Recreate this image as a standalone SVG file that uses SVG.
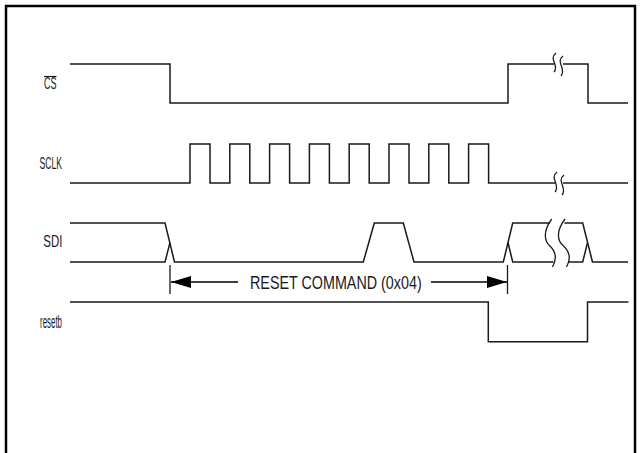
<svg xmlns="http://www.w3.org/2000/svg" width="641" height="453" viewBox="0 0 641 453">
<style>
.sig{fill:none;stroke:#1a1a1a;stroke-width:1.5;stroke-linejoin:miter}
.brk{fill:none;stroke:#1a1a1a;stroke-width:1.3}
.lbl{font-family:"Liberation Sans",Arial,sans-serif;font-size:16.5px;fill:#1a1a1a}
.big{font-size:17.5px}
.low{font-size:18.5px}
</style>
<defs>
<marker id="ah" viewBox="0 0 20 12" refX="20" refY="6" markerWidth="20" markerHeight="12" markerUnits="userSpaceOnUse" orient="auto">
<path d="M0,0 L20,6 L0,12 Z" fill="#000"/>
</marker>
</defs>
<rect width="641" height="453" fill="#fff"/>
<path d="M6,460 V6 H635 V460" fill="none" stroke="#000" stroke-width="2.5"/>

<g id="cs">
<text class="lbl" x="44" y="89" textLength="12.5" lengthAdjust="spacingAndGlyphs">CS</text>
<line x1="44" y1="76.5" x2="56.5" y2="76.5" stroke="#1a1a1a" stroke-width="1.2"/>
<path class="sig" d="M70,64 H170 V103 H508 V64 H554"/>
<path class="sig" d="M563,64 H588 V103 H628"/>
<path class="brk" d="M556,53 C548,59 560,66 554,72 M563,56 C555,62 567,69 561,76"/>
</g>

<g id="sclk">
<text class="lbl" x="39.5" y="169" textLength="22.5" lengthAdjust="spacingAndGlyphs">SCLK</text>
<path class="sig" d="M70,183 H190 V144 H210 V183 H229.8 V144 H249.8 V183 H269.6 V144 H289.6 V183 H309.4 V144 H329.4 V183 H349.2 V144 H369.2 V183 H389 V144 H409 V183 H428.8 V144 H448.8 V183 H468.6 V144 H488.6 V183 H555"/>
<path class="sig" d="M563,183 H628"/>
<path class="brk" d="M557,172 C549,178 561,186 555,192 M564,175 C556,181 568,189 562,195"/>
</g>

<g id="sdi">
<text class="lbl" x="43.3" y="247" textLength="19" lengthAdjust="spacingAndGlyphs">SDI</text>
<path class="sig" d="M70,223 H165 L174.5,262 H363.3 L374.3,223 H403.3 L414,262 H503.3 L512.7,223 H550"/>
<path class="sig" d="M70,262 H165 L170,242.5"/>
<path class="sig" d="M508,242.5 L512.7,262 H553.5"/>
<path class="sig" d="M564.5,223 H582.7 L592.5,262 H628"/>
<path class="sig" d="M568.5,262 H582.7 L587.6,242.5"/>
<path class="brk" d="M551.7,219 C543,231 544,241 550,246 C556,252 557,259 552.5,267"/>
<path class="brk" d="M565,219 C556,231 557,241 563.5,246 C570,252 571,259 566.5,267"/>
</g>

<g id="resetb">
<text class="lbl low" x="40" y="328" textLength="22" lengthAdjust="spacingAndGlyphs">resetb</text>
<path class="sig" d="M70,302 H488.3 V341.7 H587.5 V302 H628.5"/>
</g>

<g id="connectors">
<line x1="170" y1="265" x2="170" y2="294" stroke="#1a1a1a" stroke-width="1.3"/>
<line x1="507.5" y1="265" x2="507.5" y2="294" stroke="#1a1a1a" stroke-width="1.3"/>
<line x1="238" y1="282" x2="171" y2="282" stroke="#000" stroke-width="1.3" marker-end="url(#ah)"/>
<line x1="431" y1="282" x2="507" y2="282" stroke="#000" stroke-width="1.3" marker-end="url(#ah)"/>
<text class="lbl big" x="250" y="289" textLength="171.7" lengthAdjust="spacingAndGlyphs">RESET COMMAND (0x04)</text>
</g>
</svg>
